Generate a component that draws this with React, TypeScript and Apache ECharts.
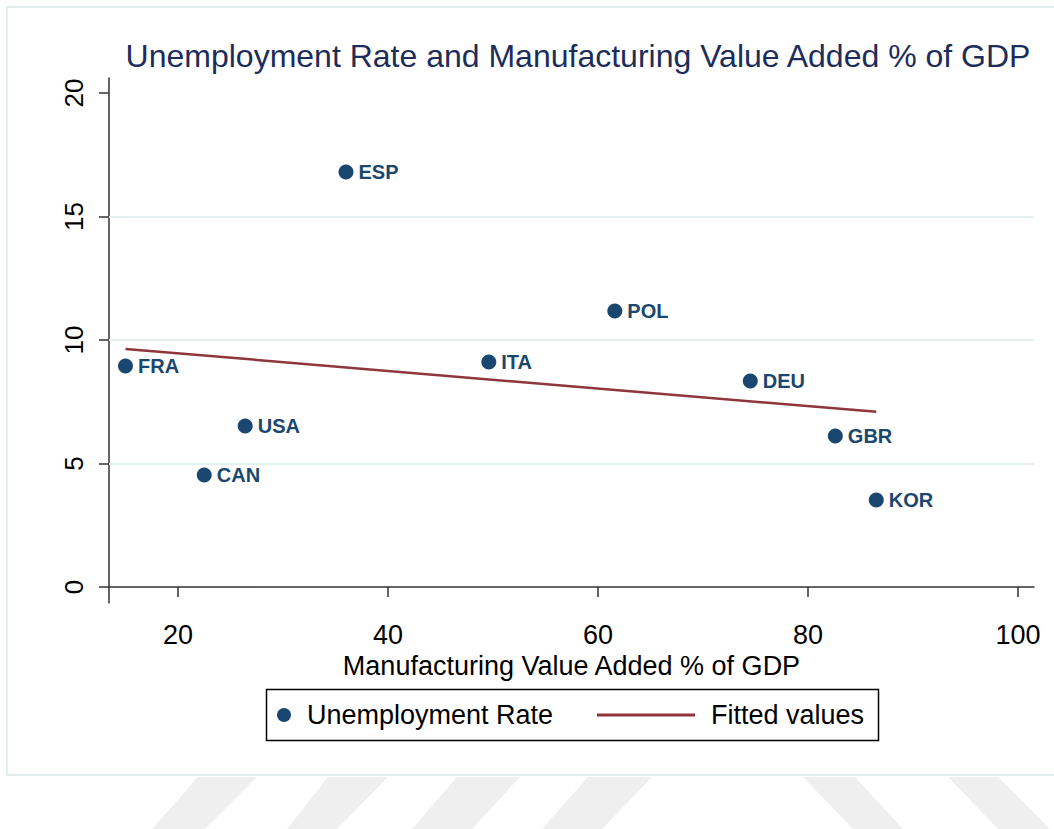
import React, { useEffect, useRef } from "react";
import * as echarts from "echarts";

const countries = ["FRA", "USA", "CAN", "ESP", "ITA", "POL", "DEU", "GBR", "KOR"];
const manufacturing = [15.0, 26.4, 22.5, 36.0, 49.6, 61.6, 74.5, 82.6, 86.5];
const unemployment = [8.95, 6.52, 4.53, 16.8, 9.11, 11.17, 8.34, 6.11, 3.52];
const fittedX = [15.0, 86.5];
const fittedY = [9.64, 7.09];
const xTicks = [20, 40, 60, 80, 100];
const yTicks = [0, 5, 10, 15, 20];
const gridValues = [5, 10, 15];

const FONT = "'Liberation Sans', Arial, sans-serif";
const NAVY = "#1a476f";
const MAROON = "#90353b";

export default function App() {
  const ref = useRef<HTMLDivElement>(null);

  useEffect(() => {
    document.body.style.margin = "0";
    const chart = echarts.init(ref.current!, null, { renderer: "svg" });

    const scatterData = countries.map((c, i) => ({
      name: c,
      value: [manufacturing[i], unemployment[i]],
    }));
    const fitData = fittedX.map((x, i) => [x, fittedY[i]]);

    const stripes = [
      [[198, 777], [257, 777], [205, 829], [152, 829]],
      [[328, 777], [388, 777], [337, 829], [287, 829]],
      [[457, 777], [520, 777], [472, 829], [412, 829]],
      [[588, 777], [652, 777], [602, 829], [542, 829]],
      [[803, 777], [855, 777], [903, 829], [853, 829]],
      [[948, 777], [998, 777], [1050, 829], [998, 829]],
    ];

    chart.setOption({
      animation: false,
      backgroundColor: "#ffffff",
      textStyle: { fontFamily: FONT },
      title: {
        text: "Unemployment Rate and Manufacturing Value Added % of GDP",
        left: 573,
        textAlign: "center",
        top: 35,
        textStyle: {
          fontFamily: FONT,
          fontSize: 32,
          fontWeight: "normal",
          color: "#1c2d5c",
        },
      },
      grid: { left: 109, top: 78, right: 20, bottom: 226, containLabel: false },
      xAxis: {
        type: "value",
        min: 13.43,
        max: 101.52,
        name: "Manufacturing Value Added % of GDP",
        nameLocation: "middle",
        nameGap: 47,
        nameTextStyle: { fontFamily: FONT, fontSize: 27, color: "#000" },
        axisLine: { show: true, lineStyle: { color: "#333", width: 1.5 } },
        axisTick: {
          show: true,
          length: 10,
          customValues: xTicks,
          lineStyle: { color: "#333", width: 1.5 },
        },
        axisLabel: {
          customValues: xTicks,
          margin: 18,
          fontFamily: FONT,
          fontSize: 27,
          color: "#000",
        },
        splitLine: { show: false },
      },
      yAxis: {
        type: "value",
        min: -0.65,
        max: 20.61,
        axisLine: { show: true, lineStyle: { color: "#333", width: 1.5 } },
        axisTick: {
          show: true,
          length: 10,
          customValues: yTicks,
          lineStyle: { color: "#333", width: 1.5 },
        },
        axisLabel: {
          customValues: yTicks,
          rotate: 90,
          margin: 22,
          fontFamily: FONT,
          fontSize: 26,
          color: "#000",
        },
        splitLine: { show: false },
      },
      legend: [
        {
          data: ["Unemployment Rate"],
          left: 277,
          top: 700,
          padding: 0,
          itemWidth: 14,
          itemHeight: 14,
          icon: "circle",
          textStyle: {
            fontFamily: FONT,
            fontSize: 27,
            color: "#000",
            lineHeight: 30,
            padding: [0, 0, 0, 11],
          },
        },
        {
          data: [{ name: "Fitted values", icon: "rect" }],
          left: 597,
          top: 700,
          padding: 0,
          itemWidth: 98,
          itemHeight: 3,
          textStyle: {
            fontFamily: FONT,
            fontSize: 27,
            color: "#000",
            lineHeight: 30,
            padding: [0, 0, 0, 11],
          },
        },
      ],
      graphic: [
        {
          type: "rect",
          shape: { x: 7, y: 7, width: 1060, height: 768 },
          style: { fill: "none", stroke: "#e4eded", lineWidth: 2 },
          silent: true,
          z: -10,
        },
        {
          type: "rect",
          shape: { x: 266.5, y: 689.5, width: 612, height: 51 },
          style: { fill: "none", stroke: "#000", lineWidth: 1.5 },
          silent: true,
        },
        ...stripes.map((pts) => ({
          type: "polygon",
          shape: { points: pts },
          style: { fill: "#efefef" },
          silent: true,
          z: -10,
        })),
      ],
      series: [
        {
          name: "grid",
          type: "line",
          data: [],
          silent: true,
          z: 1,
          markLine: {
            silent: true,
            symbol: "none",
            label: { show: false },
            lineStyle: { color: "#e6eff0", width: 2, type: "solid" },
            data: gridValues.map((v) => ({ yAxis: v })),
          },
        },
        {
          name: "Unemployment Rate",
          type: "scatter",
          data: scatterData,
          symbol: "circle",
          symbolSize: 15,
          itemStyle: { color: NAVY, opacity: 1 },
          z: 3,
          label: {
            show: true,
            position: "right",
            distance: 5,
            formatter: "{b}",
            fontFamily: FONT,
            fontSize: 20,
            fontWeight: "bold",
            color: NAVY,
          },
        },
        {
          name: "Fitted values",
          type: "line",
          data: fitData,
          symbol: "none",
          z: 2,
          lineStyle: { color: MAROON, width: 2.5 },
          itemStyle: { color: MAROON },
        },
      ],
    });

    return () => chart.dispose();
  }, []);

  return <div ref={ref} style={{ width: 1054, height: 829 }} />;
}
